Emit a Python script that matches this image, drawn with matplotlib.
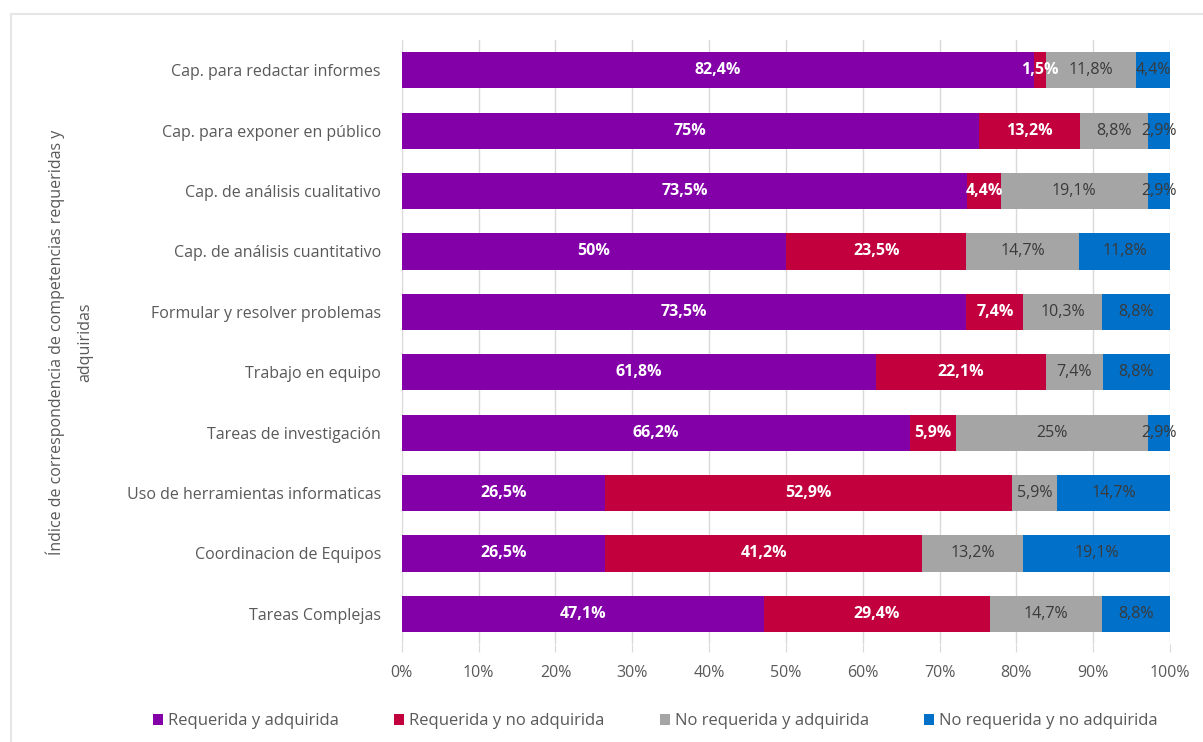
import matplotlib
matplotlib.use("Agg")
import matplotlib.pyplot as plt
import numpy as np
from matplotlib.patches import Rectangle

plt.rcParams['font.family'] = ['Open Sans', 'DejaVu Sans']

# datos (de arriba hacia abajo)
categorias = ["Cap. para redactar informes", "Cap. para exponer en público",
              "Cap. de análisis cualitativo", "Cap. de análisis cuantitativo",
              "Formular y resolver problemas", "Trabajo en equipo",
              "Tareas de investigación", "Uso de herramientas informaticas",
              "Coordinacion de Equipos", "Tareas Complejas"]
req_adq = [82.4, 75, 73.5, 50, 73.5, 61.8, 66.2, 26.5, 26.5, 47.1]
req_no_adq = [1.5, 13.2, 4.4, 23.5, 7.4, 22.1, 5.9, 52.9, 41.2, 29.4]
noreq_adq = [11.8, 8.8, 19.1, 14.7, 10.3, 7.4, 25, 5.9, 13.2, 14.7]
noreq_no_adq = [4.4, 2.9, 2.9, 11.8, 8.8, 8.8, 2.9, 14.7, 19.1, 8.8]

series = [req_adq, req_no_adq, noreq_adq, noreq_no_adq]
nombres = ["Requerida y adquirida", "Requerida y no adquirida",
           "No requerida y adquirida", "No requerida y no adquirida"]
colores = ["#8300A9", "#C2003D", "#A5A5A5", "#0070C8"]
col_texto = ["white", "white", "#3A3A3A", "#3A3A3A"]
peso_texto = ["bold", "bold", "normal", "normal"]


def fmt(v):
    if float(v).is_integer():
        return "%d%%" % v
    return ("%.1f%%" % v).replace(".", ",")


fig = plt.figure(figsize=(12.03, 7.42), dpi=100)
ax = fig.add_axes([0.334, 0.132, 0.6386, 0.814])

y = np.arange(len(categorias))
izq = np.zeros(len(categorias))
for k in range(4):
    vals = np.array(series[k], dtype=float)
    tot = np.array([sum(s[i] for s in series) for i in range(len(categorias))])
    w = vals / tot * 100
    ax.barh(y, w, left=izq, height=0.6, color=colores[k], label=nombres[k], zorder=3)
    for i in range(len(categorias)):
        ax.text(izq[i] + w[i] / 2, y[i], fmt(vals[i]), ha='center', va='center',
                color=col_texto[k], fontsize=11.5, fontweight=peso_texto[k], zorder=4)
    izq = izq + w

ax.set_xlim(0, 100)
ax.set_ylim(len(categorias) - 0.5, -0.5)
ax.set_yticks(y)
ax.set_yticklabels(categorias, fontsize=11.5, color="#595959")
ax.set_xticks(np.arange(0, 101, 10))
ax.set_xticklabels(["%d%%" % t for t in range(0, 101, 10)], fontsize=11.5, color="#595959")
ax.tick_params(axis='y', length=0, pad=15)
ax.tick_params(axis='x', length=6, color="#D9D9D9", pad=9)
ax.grid(axis='x', color="#D9D9D9", linewidth=1, zorder=0)
for s in ax.spines.values():
    s.set_visible(False)

ax.set_ylabel("Índice de correspondencia de competencias requeridas y\nadquiridas",
              fontsize=11.5, color="#595959", labelpad=24, linespacing=2.0)

ax.legend(loc='upper center', bbox_to_anchor=(0.33, -0.09), ncol=4, frameon=False,
          fontsize=12, labelcolor="#595959", handlelength=0.6, handleheight=0.6,
          handletextpad=0.3, columnspacing=3.3)

# marco del gráfico
fig.patches.append(Rectangle((0.009, -0.1), 1.2, 1.081, transform=fig.transFigure,
                             fill=False, edgecolor="#E6E6E6", linewidth=1.5))

plt.savefig("out.png", dpi=100)
